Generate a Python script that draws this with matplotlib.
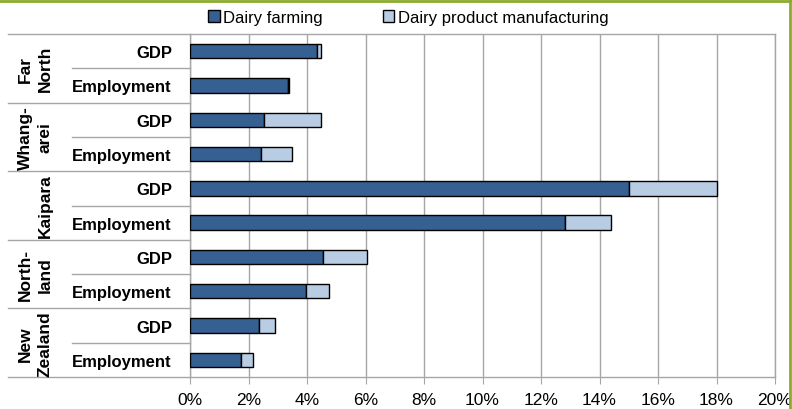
import numpy as np
import matplotlib.pyplot as plt
from matplotlib.lines import Line2D
from matplotlib.patches import Patch
from matplotlib.ticker import FuncFormatter

plt.rcParams['font.family'] = ['Liberation Sans', 'DejaVu Sans']

regions = ["Far\nNorth", "Whang-\narei", "Kaipara", "North-\nland", "New\nZealand"]
measures = ["GDP", "Employment"]

# share of each measure, percent
farming = [4.35, 3.35, 2.54, 2.42, 15.01, 12.82, 4.54, 3.98, 2.36, 1.73]
manufacturing = [0.12, 0.03, 1.93, 1.08, 2.99, 1.56, 1.51, 0.78, 0.54, 0.43]

dark = "#366092"
light = "#b8cce4"
grid = "#a6a6a6"
green = "#8aac2c"

W, H = 792, 410
fig = plt.figure(figsize=(W / 100, H / 100), dpi=100)
x0, x1, y0, y1 = 190, 775, 35, 378
ax = fig.add_axes([x0 / W, 1 - y1 / H, (x1 - x0) / W, (y1 - y0) / H])

n = len(farming)
y = np.arange(n)
ax.barh(y, farming, height=0.42, color=dark, edgecolor="black", linewidth=1, zorder=3)
ax.barh(y, manufacturing, left=farming, height=0.42, color=light,
        edgecolor="black", linewidth=1, zorder=3)

ax.set_xlim(0, 20)
ax.set_ylim(n - 0.5, -0.5)
ax.set_xticks(np.arange(0, 21, 2))
ax.xaxis.set_major_formatter(FuncFormatter(lambda v, p: f"{v:.0f}%"))
ax.grid(axis="x", color=grid, linewidth=1, zorder=0)
ax.tick_params(axis="x", length=5, color=grid, labelsize=12.5, pad=6)
for s in ax.spines.values():
    s.set_color(grid)
    s.set_linewidth(1)

ax.set_yticks(y)
ax.set_yticklabels(measures * len(regions), fontsize=12, fontweight="bold")
ax.tick_params(axis="y", length=0, pad=13)

# category separators and group labels on the left
trans = ax.get_yaxis_transform()
xa = lambda px: (px - x0) / (x1 - x0)
for k in range(n + 1):
    start = 8 if k % 2 == 0 else 72
    ax.add_line(Line2D([xa(start), 0], [k - 0.5, k - 0.5], transform=trans,
                       color=grid, linewidth=1, clip_on=False))
for i, name in enumerate(regions):
    ax.text(xa(53), 2 * i + 0.5, name, transform=trans, rotation=90,
            ha="right", va="center", multialignment="center",
            fontsize=12.5, fontweight="bold", linespacing=1.45)

handles = [Patch(facecolor=dark, edgecolor="black", label="Dairy farming"),
           Patch(facecolor=light, edgecolor="black", label="Dairy product manufacturing")]
fig.legend(handles=handles, loc="center", bbox_to_anchor=(408 / W, 1 - 18 / H),
           ncol=2, frameon=False, fontsize=12, handlelength=0.7, handleheight=0.7,
           handletextpad=0.2, columnspacing=3.6)

# green frame at top and right
fig.add_artist(Line2D([0, 1], [1 - 1.5 / H] * 2, color=green, linewidth=2))
fig.add_artist(Line2D([1 - 2.5 / W] * 2, [0, 1], color=green, linewidth=2))

fig.savefig("out.png", dpi=100)
